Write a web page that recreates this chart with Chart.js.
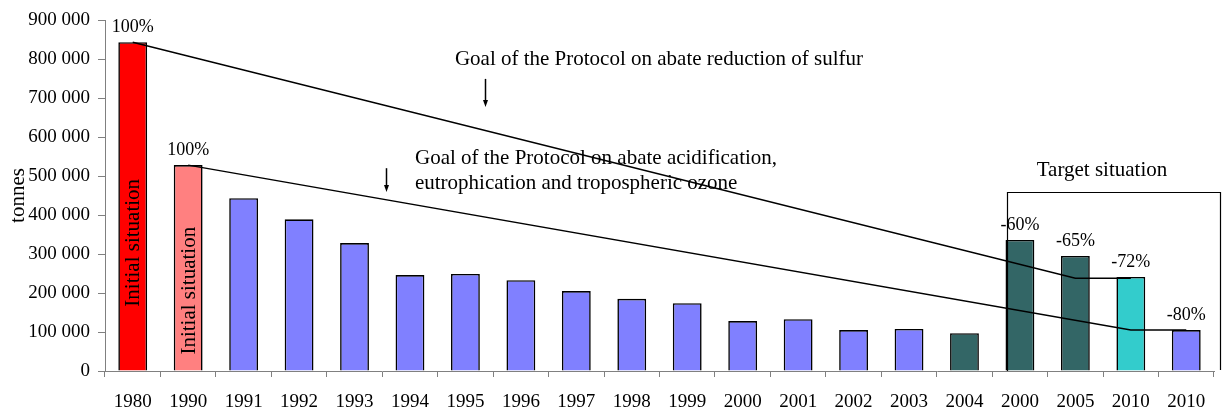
<!DOCTYPE html>
<html>
<head>
<meta charset="utf-8">
<script src="https://cdn.jsdelivr.net/npm/chart.js@4"></script>
<style>
  html, body { margin: 0; padding: 0; background: #fff; }
  #wrap { width: 1222px; height: 414px; }
</style>
</head>
<body>
<div id="wrap"><canvas id="grafico" width="1222" height="414"></canvas></div>
<script>
// categories (the years repeat on purpose: last 4 bars are target values)
const anios = ["1980", "1990", "1991", "1992", "1993", "1994", "1995", "1996", "1997", "1998",
  "1999", "2000", "2001", "2002", "2003", "2004", "2000", "2005", "2010", "2010"];

// emissions, tonnes
const emisiones = [843000, 528000, 443000, 389000, 328000, 246000, 249000, 233000, 205000, 185000,
  174000, 128000, 133000, 105000, 108000, 97000, 336000, 295000, 241000, 105000];

// goal lines (only the break points, the rest is spanned)
const metaAzufre = [843000, null, null, null, null, null, null, null, null, null,
  null, null, null, null, null, null, null, 238000, 238000, null];
const metaAcidificacion = [null, 528000, null, null, null, null, null, null, null, null,
  null, null, null, null, null, null, null, null, 105000, 105000];

// labels above bars
const etiquetas = ["100%", "100%", null, null, null, null, null, null, null, null,
  null, null, null, null, null, null, "-60%", "-65%", "-72%", "-80%"];

const ticksY = [0, 100000, 200000, 300000, 400000, 500000, 600000, 700000, 800000, 900000];

const coloresBarras = ["#FF0000", "#FF8080",
  "#8080FF", "#8080FF", "#8080FF", "#8080FF", "#8080FF", "#8080FF", "#8080FF", "#8080FF",
  "#8080FF", "#8080FF", "#8080FF", "#8080FF", "#8080FF",
  "#336666", "#336666", "#336666", "#33CCCC", "#8080FF"];

const FUENTE = "'Liberation Serif', 'Times New Roman', serif";
Chart.defaults.font.family = FUENTE;
Chart.defaults.font.size = 19;
Chart.defaults.color = "#000";

function separarMiles(v) {
  return String(v).replace(/\B(?=(\d{3})+(?!\d))/g, " ");
}

// textos, flechas y recuadro
const anotaciones = {
  id: "anotaciones",
  afterDatasetsDraw(chart) {
    const ctx = chart.ctx;
    const x = chart.scales.x;
    const y = chart.scales.y;
    const meta = chart.getDatasetMeta(0);
    const ancho = x.getPixelForValue(1) - x.getPixelForValue(0);
    const px = i => x.getPixelForValue(0) + i * ancho; // indice fraccional

    ctx.save();
    ctx.fillStyle = "#000";
    ctx.strokeStyle = "#000";
    ctx.font = "18px " + FUENTE;
    ctx.textAlign = "center";
    ctx.textBaseline = "middle";

    // % labels
    meta.data.forEach((bar, i) => {
      if (!etiquetas[i]) return;
      ctx.fillText(etiquetas[i], bar.x, bar.y - 15);
    });

    // Initial situation, vertical
    [0, 1].forEach(i => {
      const bar = meta.data[i];
      ctx.save();
      ctx.translate(bar.x, y.getPixelForValue(emisiones[i] * 0.39));
      ctx.rotate(-Math.PI / 2);
      ctx.font = "21px " + FUENTE;
      ctx.fillText("Initial situation", 0, 1);
      ctx.restore();
    });

    // goal texts
    ctx.font = "21px " + FUENTE;
    ctx.textAlign = "left";
    ctx.fillText("Goal of the Protocol on abate reduction of sulfur", px(5.81), y.getPixelForValue(800000));
    ctx.fillText("Goal of the Protocol on abate acidification,", px(5.09), y.getPixelForValue(546000));
    ctx.fillText("eutrophication and tropospheric ozone", px(5.09), y.getPixelForValue(482000));

    // arrows
    function flecha(xi, v1, v2) {
      const xx = Math.round(px(xi)) + 0.5;
      const y1 = y.getPixelForValue(v1);
      const y2 = y.getPixelForValue(v2);
      ctx.lineWidth = 1.5;
      ctx.beginPath();
      ctx.moveTo(xx, y1);
      ctx.lineTo(xx, y2 - 5);
      ctx.stroke();
      ctx.beginPath();
      ctx.moveTo(xx - 2.5, y2 - 7);
      ctx.lineTo(xx + 2.5, y2 - 7);
      ctx.lineTo(xx, y2);
      ctx.closePath();
      ctx.fill();
    }
    flecha(6.35, 749000, 677000);
    flecha(4.57, 520000, 459000);

    // target box
    ctx.textAlign = "center";
    ctx.fillText("Target situation", px(17.48), y.getPixelForValue(515000));
    ctx.lineWidth = 1.2;
    ctx.beginPath();
    const top = Math.round(y.getPixelForValue(459000)) + 0.5;
    ctx.moveTo(Math.round(px(15.76)) + 0.5, y.getPixelForValue(0));
    ctx.lineTo(Math.round(px(15.76)) + 0.5, top);
    ctx.lineTo(chart.width - 1.5, top);
    ctx.lineTo(chart.width - 1.5, y.getPixelForValue(0) - 1);
    ctx.stroke();

    ctx.restore();
  }
};

new Chart(document.getElementById("grafico"), {
  type: "bar",
  data: {
    labels: anios,
    datasets: [
      {
        label: "Emisiones",
        data: emisiones,
        backgroundColor: coloresBarras,
        borderColor: "#000",
        borderWidth: 1.6,
        barPercentage: 0.52,
        categoryPercentage: 1,
        order: 2
      },
      {
        type: "line",
        label: "Meta azufre",
        data: metaAzufre,
        spanGaps: true,
        borderColor: "#000",
        borderWidth: 1.4,
        pointRadius: 0,
        tension: 0,
        order: 1
      },
      {
        type: "line",
        label: "Meta acidificación",
        data: metaAcidificacion,
        spanGaps: true,
        borderColor: "#000",
        borderWidth: 1.4,
        pointRadius: 0,
        tension: 0,
        order: 1
      }
    ]
  },
  options: {
    responsive: false,
    animation: false,
    devicePixelRatio: 1,
    layout: { padding: { top: 20, right: 8, left: 0, bottom: 0 } },
    plugins: {
      legend: { display: false },
      tooltip: { enabled: false }
    },
    scales: {
      x: {
        offset: true,
        grid: { display: true, drawOnChartArea: false, drawTicks: true, tickLength: 6, color: "#808080", offset: true },
        border: { display: true, color: "#808080", width: 1 },
        ticks: { autoSkip: false, maxRotation: 0, padding: 14, color: "#000" },
        afterFit(scale) { scale.height = 43; }
      },
      y: {
        min: 0,
        max: 900000,
        afterBuildTicks(scale) { scale.ticks = ticksY.map(v => ({ value: v })); },
        grid: { display: true, drawOnChartArea: false, drawTicks: true, tickLength: 7, color: "#808080" },
        border: { display: true, color: "#808080", width: 1 },
        ticks: { padding: 8, color: "#000", callback: v => separarMiles(v) },
        title: { display: true, text: "tonnes", font: { size: 21 }, padding: { top: 6, bottom: 0 }, color: "#000" },
        afterFit(scale) { scale.width = 105; }
      }
    }
  },
  plugins: [anotaciones]
});
</script>
</body>
</html>
